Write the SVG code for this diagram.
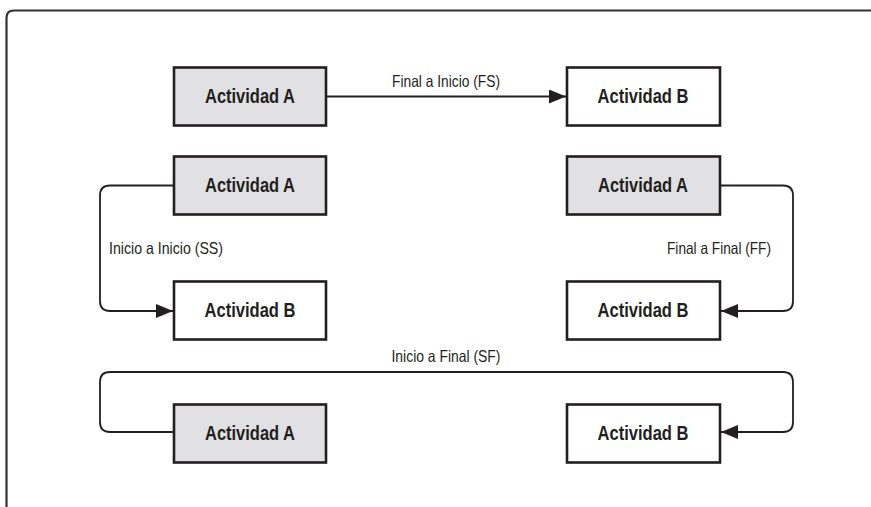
<svg xmlns="http://www.w3.org/2000/svg" width="871" height="507" viewBox="0 0 871 507">
<defs>
<style>
.box{stroke:#231f20;stroke-width:2.6}
.a{fill:#e1e1e3}
.b{fill:#ffffff}
.t{font-family:"Liberation Sans",Arial,sans-serif;font-weight:bold;font-size:20.5px;fill:#231f20;text-anchor:middle}
.l{font-family:"Liberation Sans",Arial,sans-serif;font-size:16.5px;fill:#231f20}
.c{fill:none;stroke:#231f20;stroke-width:1.8}
</style>
<marker id="arr" markerWidth="18" markerHeight="14" refX="17" refY="7" orient="auto" markerUnits="userSpaceOnUse">
<path d="M0,0 L17,7 L0,14 Z" fill="#231f20"/>
</marker>
</defs>
<rect width="871" height="507" fill="#ffffff"/>
<path d="M6.5,510 V18 Q6.5,10.5 14,10.5 H875" fill="none" stroke="#333" stroke-width="2.2"/>
<g id="connectors">
<line class="c" x1="326" y1="96.5" x2="566" y2="96.5" marker-end="url(#arr)"/>
<path class="c" d="M174,185.5 H110 Q100,185.5 100,195.5 V301 Q100,311 110,311 H173" marker-end="url(#arr)"/>
<path class="c" d="M720,185.5 H783 Q793,185.5 793,195.5 V301 Q793,311 783,311 H721" marker-end="url(#arr)"/>
<path class="c" d="M174,432 H110 Q100,432 100,422 V382 Q100,372 110,372 H783 Q793,372 793,382 V422 Q793,432 783,432 H721" marker-end="url(#arr)"/>
<text class="l" x="446" y="87" text-anchor="middle" textLength="108" lengthAdjust="spacingAndGlyphs">Final a Inicio (FS)</text>
<text class="l" x="109" y="254" textLength="114" lengthAdjust="spacingAndGlyphs">Inicio a Inicio (SS)</text>
<text class="l" x="771" y="254" text-anchor="end" textLength="104" lengthAdjust="spacingAndGlyphs">Final a Final (FF)</text>
<text class="l" x="446" y="362" text-anchor="middle" textLength="109" lengthAdjust="spacingAndGlyphs">Inicio a Final (SF)</text>
</g>
<g id="fs-a"><rect class="box a" x="174" y="67.5" width="152" height="58"/><text class="t" x="250" y="103" textLength="90" lengthAdjust="spacingAndGlyphs">Actividad A</text></g>
<g id="fs-b"><rect class="box b" x="567" y="67.5" width="153" height="58"/><text class="t" x="643" y="103" textLength="91" lengthAdjust="spacingAndGlyphs">Actividad B</text></g>
<g id="ss-a"><rect class="box a" x="174" y="156.5" width="152" height="58"/><text class="t" x="250" y="192" textLength="90" lengthAdjust="spacingAndGlyphs">Actividad A</text></g>
<g id="ss-b"><rect class="box b" x="174" y="281.5" width="152" height="58"/><text class="t" x="250" y="317" textLength="91" lengthAdjust="spacingAndGlyphs">Actividad B</text></g>
<g id="ff-a"><rect class="box a" x="567" y="156.5" width="153" height="58"/><text class="t" x="643" y="192" textLength="90" lengthAdjust="spacingAndGlyphs">Actividad A</text></g>
<g id="ff-b"><rect class="box b" x="567" y="281.5" width="153" height="58"/><text class="t" x="643" y="317" textLength="91" lengthAdjust="spacingAndGlyphs">Actividad B</text></g>
<g id="sf-a"><rect class="box a" x="174" y="404.5" width="152" height="58"/><text class="t" x="250" y="440" textLength="90" lengthAdjust="spacingAndGlyphs">Actividad A</text></g>
<g id="sf-b"><rect class="box b" x="567" y="404.5" width="153" height="58"/><text class="t" x="643" y="440" textLength="91" lengthAdjust="spacingAndGlyphs">Actividad B</text></g>
</svg>
